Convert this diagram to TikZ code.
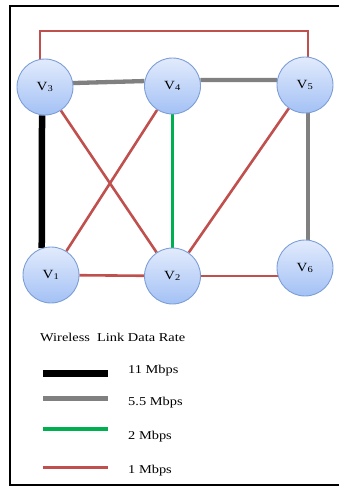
\documentclass[tikz,border=0pt]{standalone}
\usepackage{fontspec}
\setmainfont{Liberation Serif}
\newfontfamily\widefont[FakeStretch=1.2]{Liberation Serif}
\usetikzlibrary{backgrounds}
\definecolor{linkred}{HTML}{C0504D}
\definecolor{linkgreen}{HTML}{00B050}
\definecolor{linkgray}{HTML}{808080}
\definecolor{nodetop}{HTML}{E2EBFC}
\definecolor{nodebot}{HTML}{A3C1F5}
\definecolor{nodeborder}{HTML}{7C9ED6}
\tikzset{
  x=1pt, y=1pt,
  vertex/.style={circle, minimum size=56pt, inner sep=0pt, draw=nodeborder, line width=0.9pt,
    top color=nodetop, bottom color=nodebot, font=\widefont\fontsize{12.5}{14}\selectfont},
  rate11/.style={draw=black, line width=6.5pt},
  rate55/.style={draw=linkgray, line width=4.3pt},
  rate2/.style={draw=linkgreen, line width=3.4pt},
  rate1/.style={draw=linkred, line width=2.6pt},
  legtext/.style={anchor=west, inner sep=0pt, font=\widefont\fontsize{12}{14}\selectfont},
}
\begin{document}
\begin{tikzpicture}
\useasboundingbox (0,0) rectangle (339,-487);
\begin{scope}
\clip (0,0) rectangle (339,-487);
\draw[line width=2.2pt] (10,-6) rectangle (350,-485);
\end{scope}

\node[vertex] (V3) at (45,-87) {V\textsubscript{3}};
\node[vertex] (V4) at (172.5,-86) {V\textsubscript{4}};
\node[vertex] (V5) at (305,-85) {V\textsubscript{5}};
\node[vertex] (V1) at (51,-275) {V\textsubscript{1}};
\node[vertex] (V2) at (172.5,-276) {V\textsubscript{2}};
\node[vertex] (V6) at (305,-268) {V\textsubscript{6}};
\coordinate (ttop) at (0,-31);

\begin{pgfonlayer}{background}
\draw[rate1] (V3.100) |- (ttop -| V5.84) -- (V5.84);
\draw[rate55] (V3.8) -- (V4.170);
\draw[rate55] (V4.12) -- (V5.170);
\draw[rate11] (V3.264) -- (V1.109);
\draw[rate1] (V3) -- (V2);
\draw[rate1] (V4) -- (V1);
\draw[rate2] (V4) -- (V2);
\draw[rate1] (V5) -- (V2);
\draw[rate55] (V5.276) -- (V6.84);
\draw[rate1] (V1) -- (V2);
\draw[rate1] (V2.center) -- (V2.center -| V6);
\end{pgfonlayer}

\node[legtext] (title) at (40,-337) {Wireless\ \ Link Data Rate};
\coordinate (la1) at (43,-373); \coordinate (lb1) at (108,-373);
\coordinate (la2) at (43,-398); \coordinate (lb2) at (108,-398);
\coordinate (la3) at (43,-428.5); \coordinate (lb3) at (108,-428.5);
\coordinate (la4) at (43,-467); \coordinate (lb4) at (108,-467);
\draw[draw=black, line width=7pt] (la1) -- (lb1);
\draw[draw=linkgray, line width=5pt] (la2) -- (lb2);
\draw[draw=linkgreen, line width=4pt] (la3) -- (lb3);
\draw[draw=linkred, line width=3pt] (la4) -- (lb4);
\node[legtext] (t1) at (128,-371) {11 Mbps};
\node[legtext] (t2) at (128,-403) {5.5 Mbps};
\node[legtext] (t3) at (128,-437) {2 Mbps};
\node[legtext] (t4) at (128,-471) {1 Mbps};
\end{tikzpicture}
\end{document}
